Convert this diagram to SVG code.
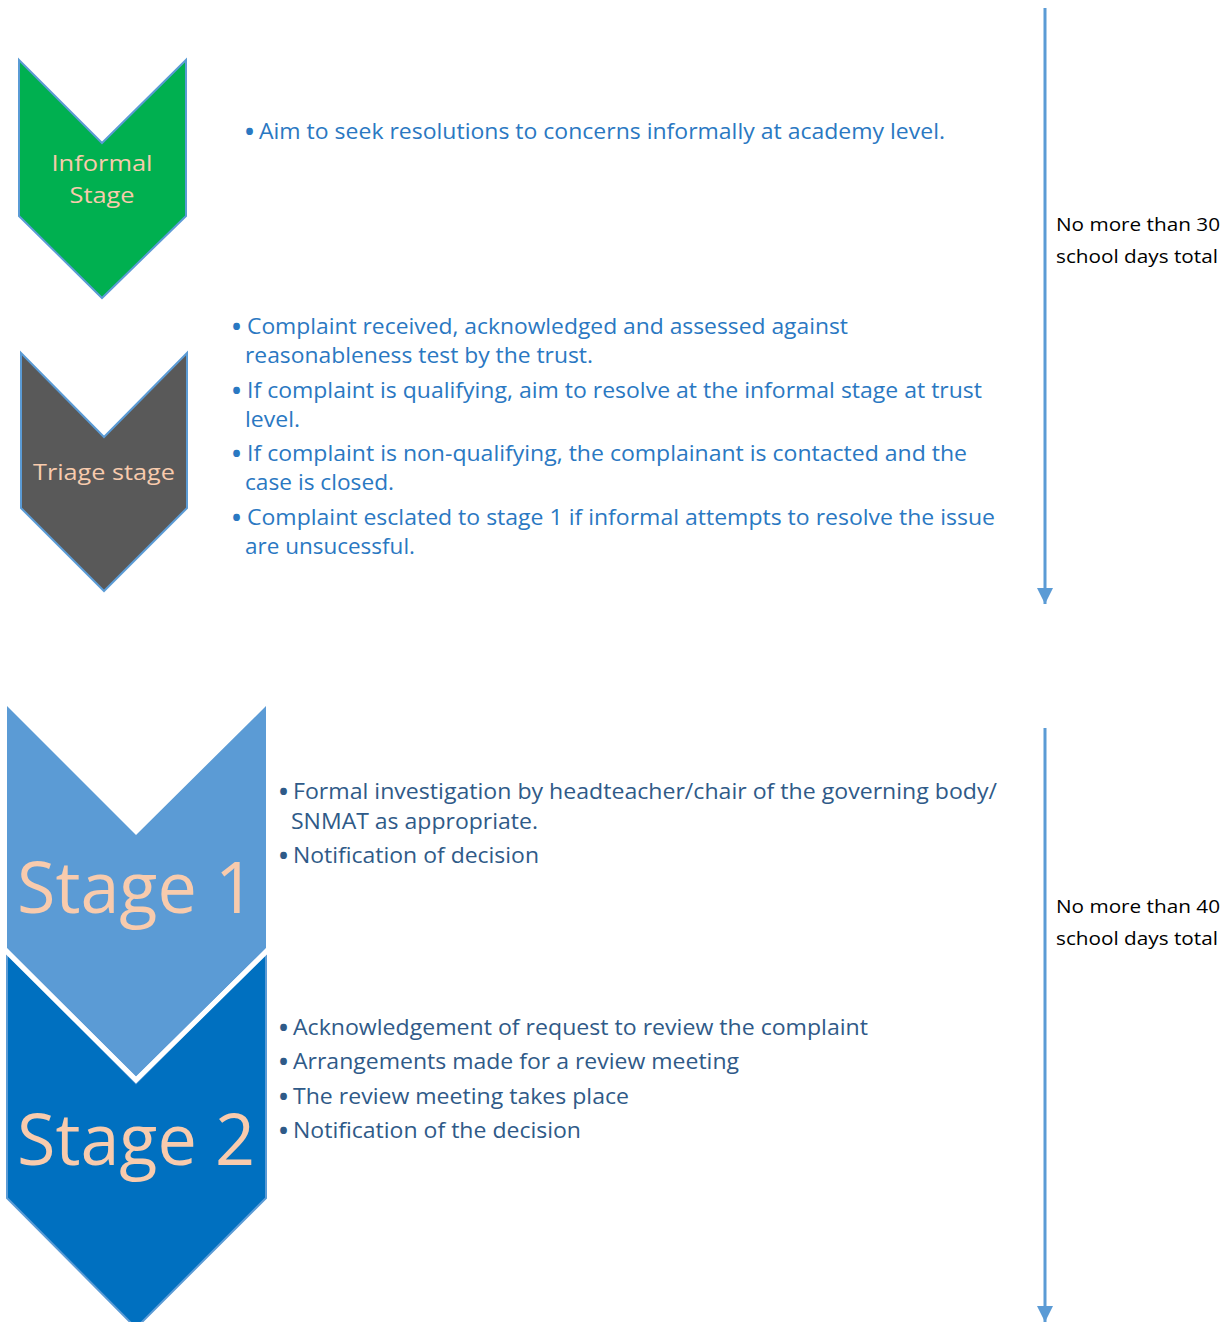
<svg xmlns="http://www.w3.org/2000/svg" width="1232" height="1322" viewBox="0 0 1232 1322">
<style>
.lbl{font-family:"Open Sans","Noto Sans","Liberation Sans",sans-serif;fill:#F8CBAD;text-anchor:middle}
.t{font-family:"Open Sans","Noto Sans","Liberation Sans",sans-serif;font-size:21px;fill:#2A78C2}
.d{font-family:"Open Sans","Noto Sans","Liberation Sans",sans-serif;font-size:21px;fill:#2F5A88}
.b{font-size:24px;font-weight:bold}
.side{font-family:"Open Sans","Noto Sans","Liberation Sans",sans-serif;font-size:19px;fill:#000}
.conn{stroke:#5B9BD5;stroke-width:3;fill:none}
</style>
<defs>
<marker id="ah" viewBox="0 0 16 16" refX="16" refY="8" markerWidth="16" markerHeight="16" markerUnits="userSpaceOnUse" orient="auto">
<path d="M0,0 L16,8 L0,16 Z" fill="#5B9BD5"/>
</marker>
</defs>
<rect width="1232" height="1322" fill="#fff"/>

<g id="informal">
<polygon points="19,60 102,143 186,60 186,216 102,298 19,216" fill="#00B050" stroke="#5B9BD5" stroke-width="2"/>
<text class="lbl" font-size="22" x="102" y="171" textLength="101" lengthAdjust="spacingAndGlyphs">Informal</text>
<text class="lbl" font-size="22" x="102" y="203" textLength="65" lengthAdjust="spacingAndGlyphs">Stage</text>
</g>

<g id="triage">
<polygon points="21,353 104,437 187,353 187,508 104,591 21,508" fill="#595959" stroke="#5B9BD5" stroke-width="2"/>
<text class="lbl" font-size="22" x="104" y="480" textLength="142" lengthAdjust="spacingAndGlyphs">Triage stage</text>
</g>

<g id="stage2">
<polygon points="7,953 136,1083 266,953 266,1198 136,1328 7,1198" fill="#0070C0" stroke="#5B9BD5" stroke-width="2"/>
<text class="lbl" font-size="72" x="136" y="1165" textLength="238" lengthAdjust="spacingAndGlyphs">Stage 2</text>
</g>

<g id="stage1">
<polygon points="7,706 136,835 266,706 266,948 136,1077 7,948" fill="#5B9BD5"/>
<polyline points="5,950 136,1080 268,950" fill="none" stroke="#fff" stroke-width="5"/>
<text class="lbl" font-size="72" x="136" y="913" textLength="238" lengthAdjust="spacingAndGlyphs">Stage 1</text>
</g>

<g id="informal-text">
<text class="t b" x="245" y="140">•</text>
<text class="t" x="259" y="139" textLength="686" lengthAdjust="spacingAndGlyphs">Aim to seek resolutions to concerns informally at academy level.</text>
</g>

<g id="triage-text">
<text class="t b" x="232" y="335">•</text>
<text class="t" x="247" y="334" textLength="601" lengthAdjust="spacingAndGlyphs">Complaint received, acknowledged and assessed against</text>
<text class="t" x="245" y="363" textLength="348" lengthAdjust="spacingAndGlyphs">reasonableness test by the trust.</text>
<text class="t b" x="232" y="399">•</text>
<text class="t" x="247" y="398" textLength="735" lengthAdjust="spacingAndGlyphs">If complaint is qualifying, aim to resolve at the informal stage at trust</text>
<text class="t" x="245" y="427" textLength="55" lengthAdjust="spacingAndGlyphs">level.</text>
<text class="t b" x="232" y="462">•</text>
<text class="t" x="247" y="461" textLength="720" lengthAdjust="spacingAndGlyphs">If complaint is non-qualifying, the complainant is contacted and the</text>
<text class="t" x="245" y="490" textLength="149" lengthAdjust="spacingAndGlyphs">case is closed.</text>
<text class="t b" x="232" y="526">•</text>
<text class="t" x="247" y="525" textLength="748" lengthAdjust="spacingAndGlyphs">Complaint esclated to stage 1 if informal attempts to resolve the issue</text>
<text class="t" x="245" y="554" textLength="170" lengthAdjust="spacingAndGlyphs">are unsucessful.</text>
</g>

<g id="stage1-text">
<text class="d b" x="279" y="800">•</text>
<text class="d" x="293" y="799" textLength="704" lengthAdjust="spacingAndGlyphs">Formal investigation by headteacher/chair of the governing body/</text>
<text class="d" x="291" y="829" textLength="247" lengthAdjust="spacingAndGlyphs">SNMAT as appropriate.</text>
<text class="d b" x="279" y="864">•</text>
<text class="d" x="293" y="863" textLength="246" lengthAdjust="spacingAndGlyphs">Notification of decision</text>
</g>

<g id="stage2-text">
<text class="d b" x="279" y="1036">•</text>
<text class="d" x="293" y="1035" textLength="575" lengthAdjust="spacingAndGlyphs">Acknowledgement of request to review the complaint</text>
<text class="d b" x="279" y="1070">•</text>
<text class="d" x="293" y="1069" textLength="446" lengthAdjust="spacingAndGlyphs">Arrangements made for a review meeting</text>
<text class="d b" x="279" y="1105">•</text>
<text class="d" x="293" y="1104" textLength="336" lengthAdjust="spacingAndGlyphs">The review meeting takes place</text>
<text class="d b" x="279" y="1139">•</text>
<text class="d" x="293" y="1138" textLength="288" lengthAdjust="spacingAndGlyphs">Notification of the decision</text>
</g>

<g id="connectors">
<line class="conn" x1="1045" y1="8" x2="1045" y2="604" marker-end="url(#ah)"/>
<line class="conn" x1="1045" y1="728" x2="1045" y2="1322" marker-end="url(#ah)"/>
</g>

<g id="timing1">
<text class="side" x="1056" y="231" textLength="164" lengthAdjust="spacingAndGlyphs">No more than 30</text>
<text class="side" x="1056" y="263" textLength="162" lengthAdjust="spacingAndGlyphs">school days total</text>
</g>
<g id="timing2">
<text class="side" x="1056" y="913" textLength="164" lengthAdjust="spacingAndGlyphs">No more than 40</text>
<text class="side" x="1056" y="945" textLength="162" lengthAdjust="spacingAndGlyphs">school days total</text>
</g>
</svg>
